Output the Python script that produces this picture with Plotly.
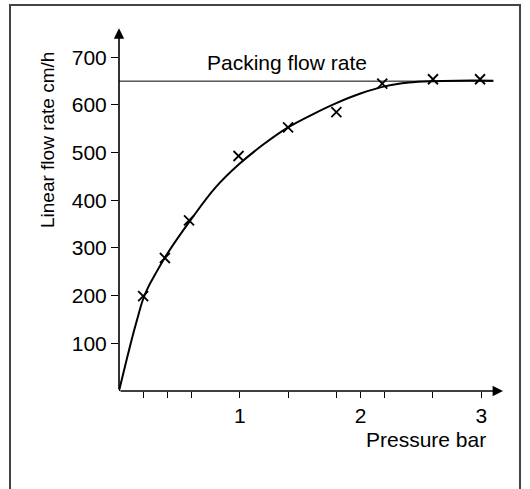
import plotly.graph_objects as go

# measured points (x marks)
pressure = [0.2, 0.38, 0.58, 0.99, 1.4, 1.8, 2.18, 2.6, 2.99]
flow = [199, 279, 358, 493, 553, 585, 645, 654, 654]

# fitted curve
curve_p = [0, 0.05, 0.1, 0.15, 0.2, 0.25, 0.3, 0.4, 0.6, 0.8, 1.0, 1.2, 1.4, 1.6, 1.8, 2.0, 2.2, 2.4, 2.6, 2.8, 3.1]
curve_f = [0, 52, 103, 150, 193, 222, 245, 288, 361, 427, 477, 518, 553, 580, 604, 624, 639, 647, 650, 651, 651]

packing_rate = 650
packing_end = 3.1

x_ticks = [0.2, 0.4, 0.6, 1, 1.4, 1.8, 2, 2.2, 2.6, 3]
x_labels = ["", "", "", "1", "", "", "2", "", "", "3"]
y_ticks = [100, 200, 300, 400, 500, 600, 700]

FONT = "Liberation Sans, Arial, sans-serif"

# plot area in page pixels (origin at 119,391; 384 x 363 px)
L, T, W, H = 119, 28, 384, 363

fig = go.Figure()
fig.add_trace(go.Scatter(x=[0, packing_end], y=[packing_rate, packing_rate], mode="lines",
                         line=dict(color="black", width=1), hoverinfo="skip"))
fig.add_trace(go.Scatter(x=curve_p, y=curve_f, mode="lines", line_shape="spline",
                         line=dict(color="black", width=2), hoverinfo="skip"))
fig.add_trace(go.Scatter(x=pressure, y=flow, mode="markers",
                         marker=dict(symbol="x-thin", size=10, line=dict(color="black", width=1.8))))

# axes with arrow heads
fig.add_annotation(x=3.18, y=0, ax=0, ay=0, xref="x", yref="y", axref="x", ayref="y",
                   showarrow=True, arrowhead=2, arrowsize=1.3, arrowwidth=1.6, arrowcolor="black", text="")
fig.add_annotation(x=0, y=761, ax=0, ay=0, xref="x", yref="y", axref="x", ayref="y",
                   showarrow=True, arrowhead=2, arrowsize=1.3, arrowwidth=1.6, arrowcolor="black", text="")

fig.add_annotation(x=1.39, y=690, xref="x", yref="y", text="Packing flow rate", showarrow=False,
                   font=dict(size=21, color="black", family=FONT))
fig.add_annotation(x=(488 - L) / W, y=(T + H - 439) / H, xref="paper", yref="paper",
                   text="Pressure bar", showarrow=False, xanchor="right", yanchor="middle",
                   font=dict(size=21, color="black", family=FONT))
fig.add_annotation(x=(47 - L) / W, y=(T + H - 140) / H, xref="paper", yref="paper",
                   text="Linear flow rate cm/h", showarrow=False, textangle=-90,
                   xanchor="center", yanchor="middle",
                   font=dict(size=19, color="black", family=FONT))

# outer frame (left, top, right edges)
fx0, fx1, fy1, fy0 = (10 - L) / W, (520 - L) / W, (T + H - 5) / H, -0.35
fig.add_shape(type="path", xref="paper", yref="paper",
              path=f"M {fx0} {fy0} L {fx0} {fy1} L {fx1} {fy1} L {fx1} {fy0}",
              line=dict(color="#444444", width=2))

fig.update_xaxes(range=[0, 3.18], tickvals=x_ticks, ticktext=x_labels, ticks="outside", ticklen=6,
                 tickwidth=1.2, tickcolor="black", showgrid=False, zeroline=False, showline=False,
                 tickfont=dict(size=21, color="black", family=FONT))
fig.update_yaxes(range=[0, 761.5], tickvals=y_ticks, ticks="outside", ticklen=7, tickwidth=1.2,
                 tickcolor="black", showgrid=False, zeroline=False, showline=False,
                 tickfont=dict(size=21, color="black", family=FONT))

fig.update_layout(width=530, height=489, margin=dict(l=L, r=530 - L - W, t=T, b=489 - T - H),
                  paper_bgcolor="white", plot_bgcolor="white", showlegend=False)

fig.write_html("out.html", config={"displayModeBar": False},
               post_script="document.body.style.margin='0';document.body.style.overflow='hidden';")
